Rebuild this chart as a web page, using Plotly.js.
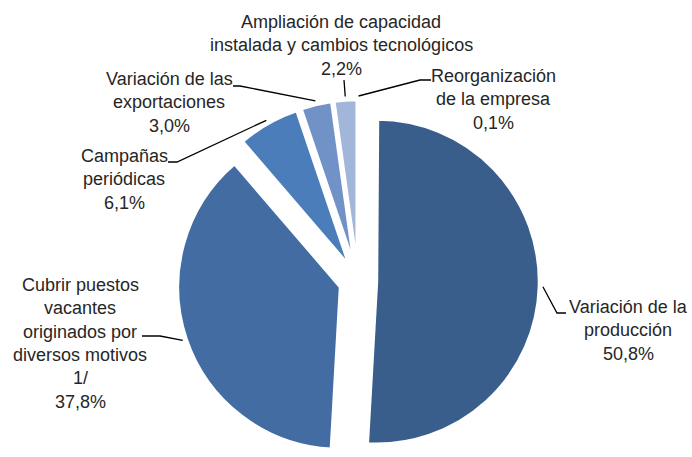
<!DOCTYPE html>
<html>
<head>
<meta charset="utf-8">
<script src="https://cdn.plot.ly/plotly-3.0.1.min.js"></script>
<style>
html,body{margin:0;padding:0;background:#fff;overflow:hidden;width:692px;height:457px;}
#chart{width:692px;height:475px;}
</style>
</head>
<body>
<div id="chart"></div>
<script>
// ---- data ----
const categories = [
  "Reorganización de la empresa",
  "Variación de la producción",
  "Cubrir puestos vacantes originados por diversos motivos 1/",
  "Campañas periódicas",
  "Variación de las exportaciones",
  "Ampliación de capacidad instalada y cambios tecnológicos"
];
const values = [0.1, 50.8, 37.8, 6.1, 3.0, 2.2];
const percentLabels = ["0,1%", "50,8%", "37,8%", "6,1%", "3,0%", "2,2%"];
const labelLines = [
  ["Reorganización", "de la empresa"],
  ["Variación de la", "producción"],
  ["Cubrir puestos", "vacantes", "originados por", "diversos motivos", "1/"],
  ["Campañas", "periódicas"],
  ["Variación de las", "exportaciones"],
  ["Ampliación de capacidad", "instalada y cambios tecnológicos"]
];

// ---- styles / layout ----
const W = 692, H = 475;
const colors = ["#dfe6f1", "#3a5e8c", "#436da2", "#4a7dba", "#7192c6", "#a2b6d9"];
const pull = 0.117;
const cx = 358, cy = 281;            // pie centre (px)
const half = 181;                    // half of domain size (px)
const domX = [(cx - half) / W, (cx + half) / W];
const domY = [(H - cy - half) / H, (H - cy + half) / H];
const radius = half / (1 + pull);

// label block positions: centre x, first line y (px); leader: start point + elbow point
const labelPos = [
  {x: 493, y: 76},
  {x: 628, y: 307},
  {x: 80,  y: 285},
  {x: 124, y: 156},
  {x: 169, y: 79},
  {x: 341, y: 22}
];
const lineH = 23.3;
const leaders = [
  {s: [431, 80], e: [420, 80]},
  {s: [566, 313], e: [557, 313]},
  {s: [142, 336], e: [160, 336]},
  {s: [168, 162], e: [177, 162]},
  {s: [233, 86], e: [240, 86]},
  {s: [344, 80], e: [344, 80]}
];

const font = {family: "Liberation Sans, Arial, sans-serif", size: 18, color: "#262626"};
const px = v => v / W, py = v => 1 - v / H;

const total = values.reduce((a, b) => a + b, 0);
let cum = 0;
const annotations = [], shapes = [];
values.forEach((v, i) => {
  const mid = (cum + v / 2) / total * 2 * Math.PI;
  cum += v;
  const R = radius * (1 + pull) + 4;
  const tx = cx + R * Math.sin(mid), ty = cy - R * Math.cos(mid);
  const L = leaders[i];
  shapes.push({
    type: "path", xref: "paper", yref: "paper",
    path: `M ${px(L.s[0])} ${py(L.s[1])} L ${px(L.e[0])} ${py(L.e[1])} L ${px(tx)} ${py(ty)}`,
    line: {color: "#000", width: 1.3}
  });
  const lines = labelLines[i].concat([percentLabels[i]]);
  lines.forEach((t, k) => {
    annotations.push({
      xref: "paper", yref: "paper",
      x: px(labelPos[i].x), y: py(labelPos[i].y + k * lineH),
      xanchor: "center", yanchor: "middle",
      text: t, showarrow: false, font: font
    });
  });
});

const trace = {
  type: "pie",
  labels: categories,
  values: values,
  sort: false,
  direction: "clockwise",
  rotation: 0,
  pull: values.map(() => pull),
  marker: {colors: colors, line: {color: "#ffffff", width: 2.5}},
  textinfo: "none",
  hoverinfo: "none",
  domain: {x: domX, y: domY},
  showlegend: false
};

Plotly.newPlot("chart", [trace], {
  width: W, height: H,
  margin: {l: 0, r: 0, t: 0, b: 0},
  paper_bgcolor: "#ffffff",
  showlegend: false,
  annotations: annotations,
  shapes: shapes
}, {staticPlot: true});
</script>
</body>
</html>
